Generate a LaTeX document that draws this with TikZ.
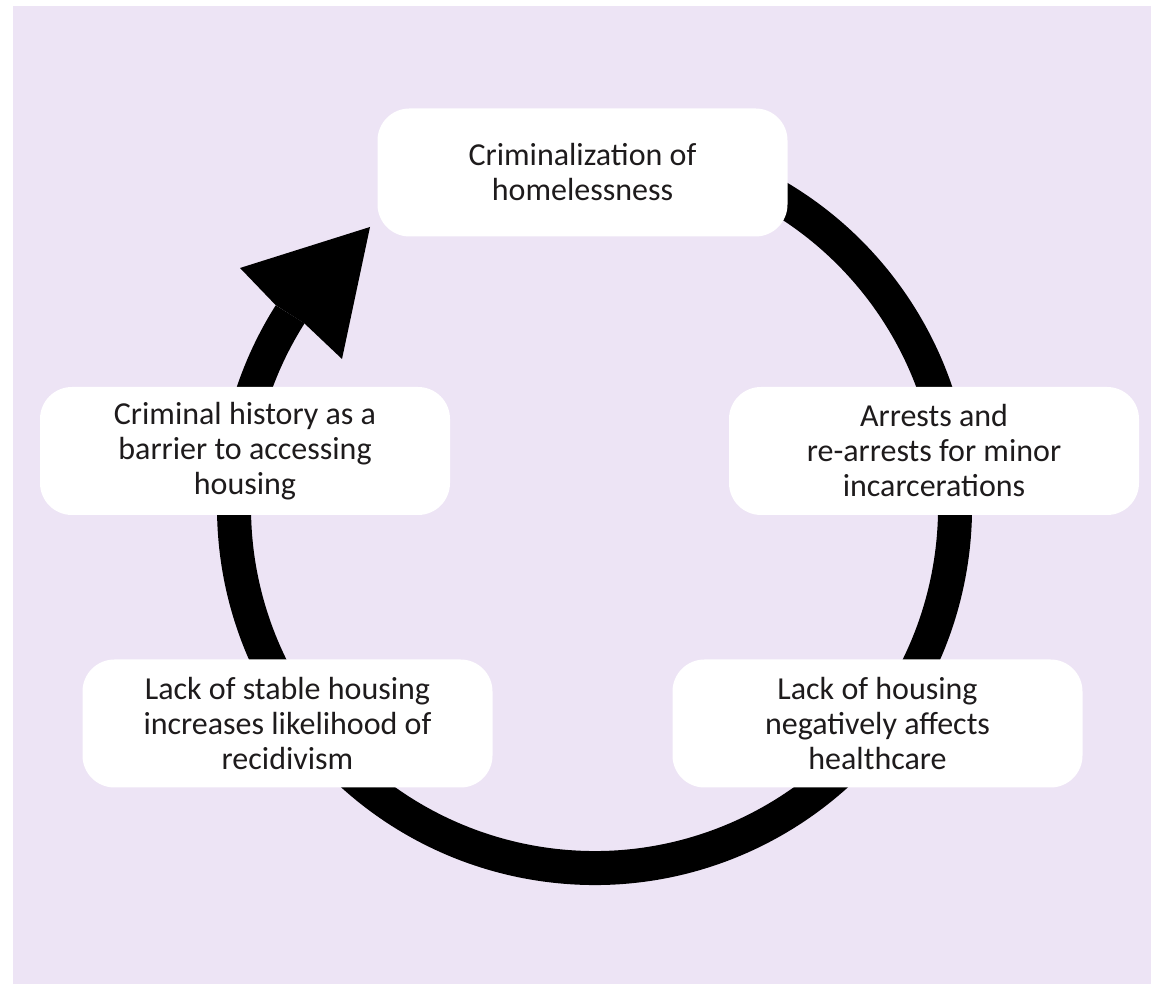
\documentclass[tikz,border=0pt]{standalone}
\usepackage{fontspec}
\setmainfont{Carlito}
\definecolor{lav}{RGB}{237,228,245}
\definecolor{textdark}{RGB}{30,27,28}
\begin{document}
\begin{tikzpicture}[x=1pt,y=1pt,
  box/.style={fill=white, rounded corners=32pt, minimum width=410pt, minimum height=128pt,
    align=center, text=textdark, font=\fontsize{32}{35}\selectfont, inner sep=0pt},
  ring/.style={line width=34pt, draw=black}]
\useasboundingbox (0,0) rectangle (1157,984);
\fill[white] (0,0) rectangle (1157,984);
\fill[lav] (13,0) rectangle (1151,978);
% cycle ring
\coordinate (c) at (594.5,476.5);
\draw[ring] ([shift={(80:360.5)}]c) arc[start angle=80, end angle=-212.4, radius=360.5];
% arrow head
\coordinate (ho) at ([shift={(147.6:377.5)}]c);
\coordinate (hi) at ([shift={(147.6:343.5)}]c);
\coordinate (hl) at (240,716);
\coordinate (ht) at (370,757);
\coordinate (hr) at (342,625);
\fill[black] (ho) -- (hl) -- (ht) -- (hr) -- (hi) -- cycle;
% boxes
\node[box] (top) at (582.5,811.5) {Criminalization of\\homelessness};
\node[box] (lm) at (245,533) {Criminal history as a\\barrier to accessing\\housing};
\node[box] (rm) at (934,533) {Arrests and\\re-arrests for minor\\incarcerations};
\node[box] (bl) at (287.5,260.5) {Lack of stable housing\\increases likelihood of\\recidivism};
\node[box] (br) at (877.5,260.5) {Lack of housing\\negatively affects\\healthcare};
\end{tikzpicture}
\end{document}
